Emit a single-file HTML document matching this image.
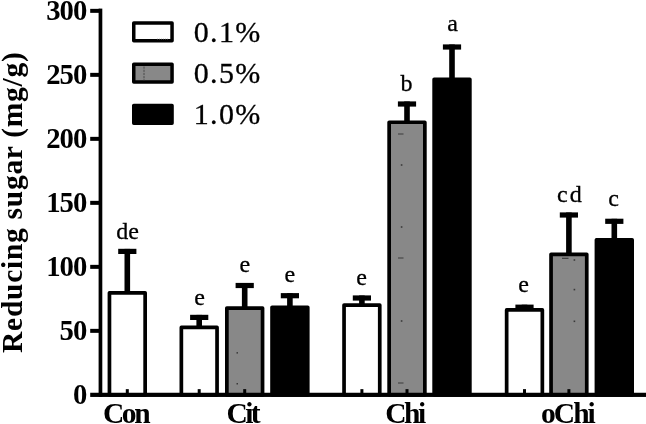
<!DOCTYPE html>
<html><head><meta charset="utf-8"><title>Reducing sugar</title>
<style>
html,body{margin:0;padding:0;background:#fff;}
body{width:646px;height:424px;overflow:hidden;}
svg{display:block;}
text{font-family:"Liberation Serif",serif;fill:#000;}
.b{font-weight:bold;font-size:29.5px;}
.l{font-size:24px;text-anchor:middle;stroke:#000;stroke-width:0.3px;}
.g{font-size:30px;stroke:#000;stroke-width:0.3px;}
.t{font-weight:bold;font-size:29.5px;text-anchor:middle;letter-spacing:0.72px;}
</style></head><body>
<svg width="646" height="424" viewBox="0 0 646 424">
<rect width="646" height="424" fill="#fff"/>

<rect x="124.50" y="248.90" width="5.6" height="44.10" fill="#000"/>
<rect x="118.20" y="248.80" width="18.2" height="5.2" fill="#000"/>
<rect x="109.45" y="292.85" width="35.70" height="102.00" fill="#fff" stroke="#000" stroke-width="3.7" stroke-linejoin="round"/>
<rect x="125.80" y="389.15" width="3" height="4" fill="#000"/>
<text class="l" x="127.50" y="239.00">de</text>
<rect x="196.40" y="314.90" width="5.6" height="12.70" fill="#000"/>
<rect x="190.10" y="314.80" width="18.2" height="5.2" fill="#000"/>
<rect x="181.35" y="327.45" width="35.70" height="67.40" fill="#fff" stroke="#000" stroke-width="3.7" stroke-linejoin="round"/>
<rect x="197.70" y="389.15" width="3" height="4" fill="#000"/>
<text class="l" x="199.50" y="304.50">e</text>
<rect x="241.90" y="283.00" width="5.6" height="25.20" fill="#000"/>
<rect x="235.60" y="282.90" width="18.2" height="5.2" fill="#000"/>
<rect x="226.85" y="308.05" width="35.70" height="86.80" fill="#888888" stroke="#000" stroke-width="3.7" stroke-linejoin="round"/>
<rect x="243.20" y="389.15" width="3" height="4" fill="#000"/>
<text class="l" x="244.80" y="271.50">e</text>
<rect x="287.10" y="293.20" width="5.6" height="14.20" fill="#000"/>
<rect x="280.80" y="293.10" width="18.2" height="5.2" fill="#000"/>
<rect x="272.05" y="307.25" width="35.70" height="87.60" fill="#000" stroke="#000" stroke-width="3.7" stroke-linejoin="round"/>
<text class="l" x="289.80" y="281.60">e</text>
<rect x="359.10" y="295.50" width="5.6" height="9.70" fill="#000"/>
<rect x="352.80" y="295.40" width="18.2" height="5.2" fill="#000"/>
<rect x="344.05" y="305.05" width="35.70" height="89.80" fill="#fff" stroke="#000" stroke-width="3.7" stroke-linejoin="round"/>
<rect x="360.40" y="389.15" width="3" height="4" fill="#000"/>
<text class="l" x="361.60" y="284.50">e</text>
<rect x="404.20" y="101.50" width="5.6" height="20.90" fill="#000"/>
<rect x="397.90" y="101.40" width="18.2" height="5.2" fill="#000"/>
<rect x="389.15" y="122.25" width="35.70" height="272.60" fill="#888888" stroke="#000" stroke-width="3.7" stroke-linejoin="round"/>
<rect x="405.50" y="389.15" width="3" height="4" fill="#000"/>
<text class="l" x="406.60" y="90.50">b</text>
<rect x="449.20" y="44.50" width="5.6" height="34.90" fill="#000"/>
<rect x="442.90" y="44.40" width="18.2" height="5.2" fill="#000"/>
<rect x="434.15" y="79.25" width="35.70" height="315.60" fill="#000" stroke="#000" stroke-width="3.7" stroke-linejoin="round"/>
<text class="l" x="452.50" y="30.60">a</text>
<rect x="521.70" y="304.70" width="5.6" height="5.40" fill="#000"/>
<rect x="515.40" y="304.60" width="18.2" height="5.2" fill="#000"/>
<rect x="506.65" y="309.95" width="35.70" height="84.90" fill="#fff" stroke="#000" stroke-width="3.7" stroke-linejoin="round"/>
<rect x="523.00" y="389.15" width="3" height="4" fill="#000"/>
<text class="l" x="523.70" y="292.00">e</text>
<rect x="566.10" y="212.50" width="5.6" height="42.00" fill="#000"/>
<rect x="559.80" y="212.40" width="18.2" height="5.2" fill="#000"/>
<rect x="551.05" y="254.35" width="35.70" height="140.50" fill="#888888" stroke="#000" stroke-width="3.7" stroke-linejoin="round"/>
<rect x="567.40" y="389.15" width="3" height="4" fill="#000"/>
<text class="l" x="570.50" y="202.00" letter-spacing="2.2">cd</text>
<rect x="611.50" y="218.80" width="5.6" height="21.20" fill="#000"/>
<rect x="605.20" y="218.70" width="18.2" height="5.2" fill="#000"/>
<rect x="596.45" y="239.85" width="35.70" height="155.00" fill="#000" stroke="#000" stroke-width="3.7" stroke-linejoin="round"/>
<text class="l" x="613.50" y="206.20">c</text>
<rect x="398" y="133.50" width="5.5" height="1" fill="#3a3a3a"/>
<rect x="400.8" y="164.20" width="1.6" height="1.6" fill="#3a3a3a"/>
<rect x="400.8" y="226.20" width="1.6" height="1.6" fill="#3a3a3a"/>
<rect x="398" y="257.50" width="5.5" height="1" fill="#3a3a3a"/>
<rect x="400.8" y="320.20" width="1.6" height="1.6" fill="#3a3a3a"/>
<rect x="398" y="382.50" width="5.5" height="1" fill="#3a3a3a"/>
<rect x="573.6" y="259.20" width="1.6" height="1.6" fill="#3a3a3a"/>
<rect x="573.6" y="288.80" width="1.6" height="1.6" fill="#3a3a3a"/>
<rect x="573.6" y="320.50" width="1.6" height="1.6" fill="#3a3a3a"/>
<rect x="562" y="257.70" width="6.5" height="1.2" fill="#3a3a3a"/>
<rect x="236.5" y="352.10" width="1.5" height="1.5" fill="#3a3a3a"/>
<rect x="236.5" y="383.00" width="1.5" height="1.5" fill="#3a3a3a"/>
<rect x="98.6" y="8.6" width="3.7" height="388.35" fill="#000"/>
<rect x="90.2" y="392.75" width="555.80" height="4.2" fill="#000"/>
<text class="b" style="font-size:28.7px" text-anchor="end" letter-spacing="-1.0" x="86.3" y="403.95">0</text>
<rect x="90.2" y="328.85" width="10" height="4" fill="#000"/>
<text class="b" style="font-size:28.7px" text-anchor="end" letter-spacing="-1.0" x="86.3" y="339.95">50</text>
<rect x="90.2" y="264.85" width="10" height="4" fill="#000"/>
<text class="b" style="font-size:28.7px" text-anchor="end" letter-spacing="-1.0" x="86.3" y="275.95">100</text>
<rect x="90.2" y="200.85" width="10" height="4" fill="#000"/>
<text class="b" style="font-size:28.7px" text-anchor="end" letter-spacing="-1.0" x="86.3" y="211.95">150</text>
<rect x="90.2" y="136.85" width="10" height="4" fill="#000"/>
<text class="b" style="font-size:28.7px" text-anchor="end" letter-spacing="-1.0" x="86.3" y="147.95">200</text>
<rect x="90.2" y="72.85" width="10" height="4" fill="#000"/>
<text class="b" style="font-size:28.7px" text-anchor="end" letter-spacing="-1.0" x="86.3" y="83.95">250</text>
<rect x="90.2" y="8.85" width="10" height="4" fill="#000"/>
<text class="b" style="font-size:28.7px" text-anchor="end" letter-spacing="-1.0" x="86.3" y="19.95">300</text>
<text class="b" letter-spacing="-2.4" x="102.9" y="423.2">Con</text>
<text class="b" letter-spacing="-2.55" x="226.45" y="423.2">Cit</text>
<text class="b" letter-spacing="-2.55" x="385.35" y="423.2">Chi</text>
<text class="b" letter-spacing="-1.95" x="541.0" y="423.2">oChi</text>
<text class="t" transform="translate(22.2,202.2) rotate(-90)">Reducing sugar (mg/g)</text>
<rect x="133.75" y="23.05" width="38.3" height="17.7" fill="#fff" stroke="#000" stroke-width="3.5" stroke-linejoin="round"/>
<text class="g" x="193.8" y="41.80" letter-spacing="1.3">0.1%</text>
<rect x="133.75" y="64.30" width="38.3" height="17.7" fill="#888888" stroke="#000" stroke-width="3.5" stroke-linejoin="round"/>
<text class="g" x="193.8" y="83.05" letter-spacing="1.3">0.5%</text>
<rect x="133.75" y="105.55" width="38.3" height="17.7" fill="#000" stroke="#000" stroke-width="3.5" stroke-linejoin="round"/>
<text class="g" x="193.8" y="124.30" letter-spacing="1.3">1.0%</text>
<line x1="144" y1="66.5" x2="144" y2="80.5" stroke="#3a3a3a" stroke-width="0.8" stroke-dasharray="2.2 1"/>
<line x1="157" y1="39.2" x2="168" y2="39.2" stroke="#666" stroke-width="0.7" stroke-dasharray="1 1"/>
</svg></body></html>
